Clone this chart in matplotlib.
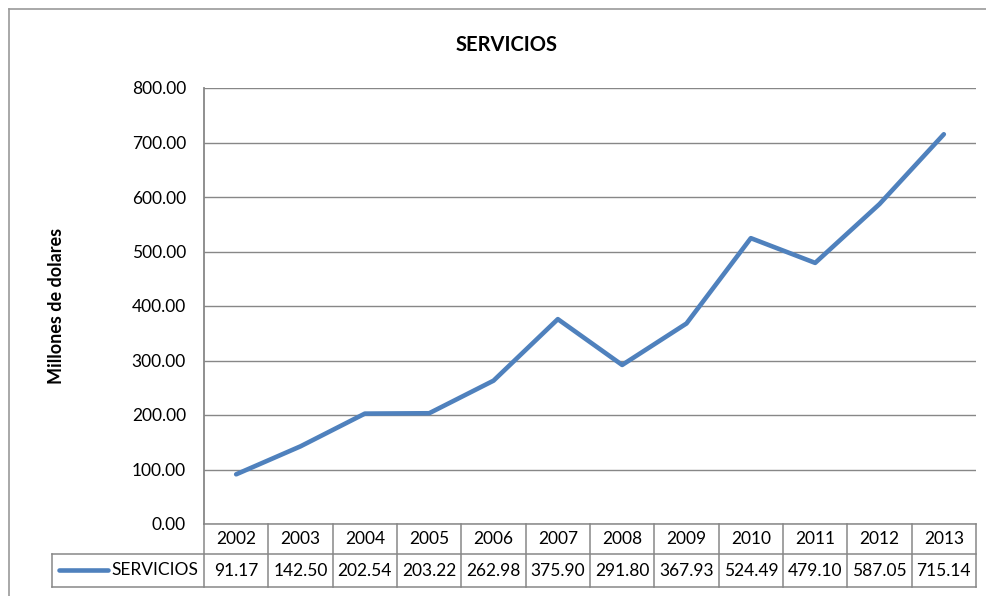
import matplotlib.pyplot as plt
from matplotlib.lines import Line2D

years = ['2002', '2003', '2004', '2005', '2006', '2007',
         '2008', '2009', '2010', '2011', '2012', '2013']
servicios = [91.17, 142.50, 202.54, 203.22, 262.98, 375.90,
             291.80, 367.93, 524.49, 479.10, 587.05, 715.14]
y_ticks = [0, 100, 200, 300, 400, 500, 600, 700, 800]
series_name = 'SERVICIOS'

W, H = 987, 596
blue = '#4F81BD'
grey = '#878787'
fs = 12.5
plt.rcParams['font.family'] = ['Lato', 'DejaVu Sans']

fig = plt.figure(figsize=(W / 100, H / 100), dpi=100)

def fx(px):
    return px / W

def fy(py):
    return 1 - py / H

# plot area in pixel terms
left, right, top, bottom = 204, 976, 88, 524
ax = fig.add_axes([fx(left), fy(bottom), fx(right - left), (bottom - top) / H])

x = list(range(len(years)))
ax.plot(x, servicios, color=blue, lw=3.3, solid_capstyle='round', zorder=3)
ax.set_xlim(-0.5, len(years) - 0.5)
ax.set_ylim(0, 800)
ax.set_yticks(y_ticks)
ax.set_yticklabels(['%.2f' % v for v in y_ticks])
ax.set_xticks([])
ax.tick_params(axis='y', length=0, pad=13, labelsize=fs, colors='black')
ax.yaxis.grid(True, color=grey, lw=1.0)
for s in ['top', 'right', 'bottom']:
    ax.spines[s].set_visible(False)
ax.spines['left'].set_color(grey)
ax.spines['left'].set_linewidth(1.3)
ax.set_ylabel('Millones de dolares', fontsize=13, fontweight='bold', labelpad=48)
fig.text(fx(507), fy(45), 'SERVICIOS', ha='center', va='center',
         fontsize=14.5, fontweight='bold')

# chart border (continues past the right and bottom edges)
fig.add_artist(Line2D([fx(9), fx(9)], [0, fy(9)], color='#9a9a9a', lw=1.2))
fig.add_artist(Line2D([fx(9), 1], [fy(9), fy(9)], color='#9a9a9a', lw=1.2))

# data table under the axis
row1_top, row1_bot, row2_bot = 524, 554, 587
legend_left = 52
col_w = (right - left) / len(years)
line_kw = dict(color=grey, lw=1.1)
fig.add_artist(Line2D([fx(left), fx(right)], [fy(row1_top)] * 2, **line_kw))
fig.add_artist(Line2D([fx(legend_left), fx(right)], [fy(row1_bot)] * 2, **line_kw))
fig.add_artist(Line2D([fx(legend_left), fx(right)], [fy(row2_bot)] * 2, **line_kw))
fig.add_artist(Line2D([fx(legend_left)] * 2, [fy(row1_bot), fy(row2_bot)], **line_kw))
for i in range(len(years) + 1):
    xc = left + i * col_w
    fig.add_artist(Line2D([fx(xc)] * 2, [fy(row1_top), fy(row2_bot)], **line_kw))

for i, (yr, v) in enumerate(zip(years, servicios)):
    xc = left + (i + 0.5) * col_w
    fig.text(fx(xc), fy((row1_top + row1_bot) / 2), yr, ha='center', va='center', fontsize=fs)
    fig.text(fx(xc), fy((row1_bot + row2_bot) / 2), '%.2f' % v, ha='center', va='center', fontsize=fs)

fig.add_artist(Line2D([fx(59), fx(108)], [fy(570), fy(570)], color=blue, lw=3.3,
                      solid_capstyle='round'))
fig.text(fx(198), fy(570), series_name, ha='right', va='center', fontsize=fs)

fig.savefig('out.png', dpi=100)
